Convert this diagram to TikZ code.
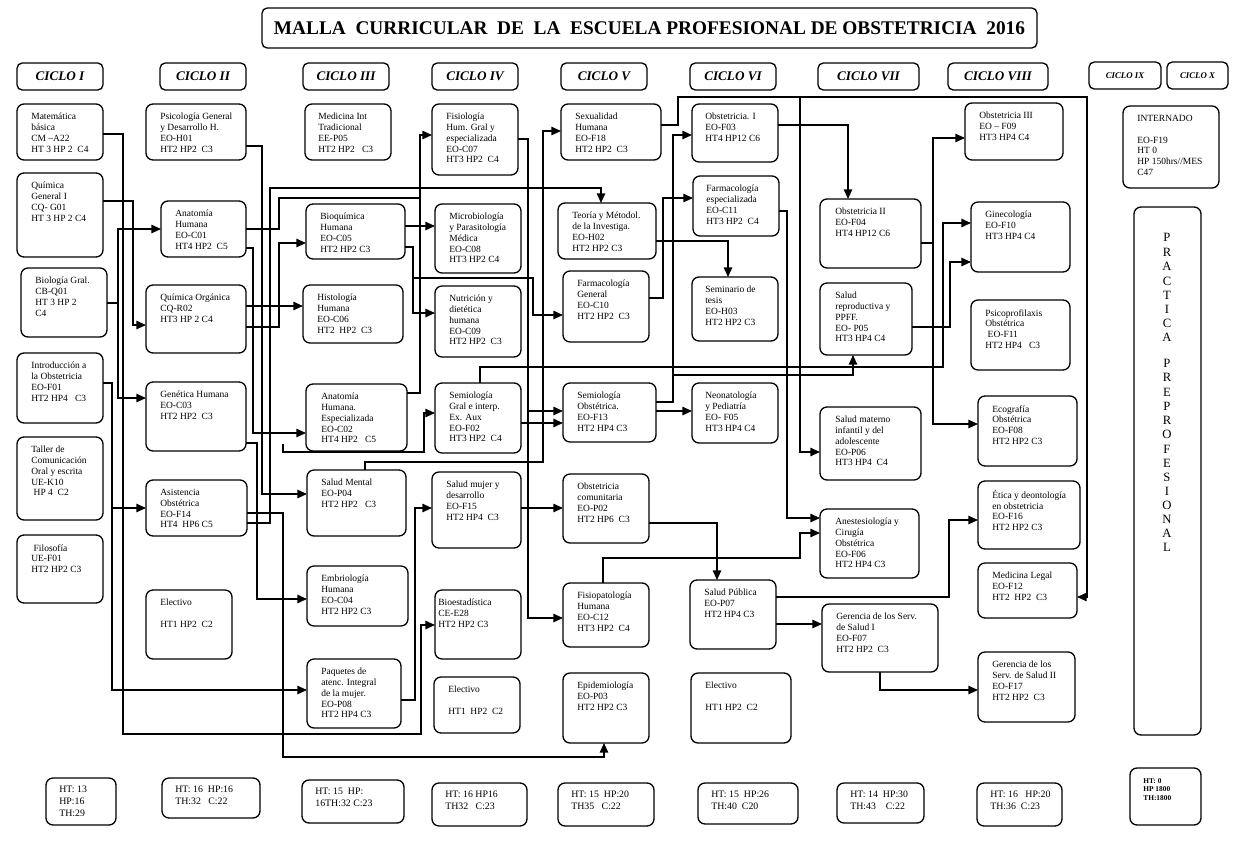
\documentclass[tikz,border=0pt]{standalone}
\usepackage{fontspec}
\setmainfont{Liberation Serif}
\usetikzlibrary{arrows.meta,calc}
\tikzset{
 box/.style={draw, rounded corners=4pt, line width=0.75pt, inner sep=0pt, outer sep=0pt},
 txt/.style={align=left, inner sep=0pt, font=\fontsize{5.4}{6.1}\selectfont},
 tottxt/.style={align=left, inner sep=0pt, font=\fontsize{5.6}{6.8}\selectfont},
 conn/.style={line width=0.8pt},
 arr/.style={-{Triangle[length=5.5pt,width=4.8pt]}},
 prl/.style={inner sep=0pt, font=\fontsize{7.2}{8}\selectfont},
}
\newcommand\mybox[7][14]{%
 \node[box, minimum width={(#5-#3)*0.02cm}, minimum height={(#6-#4)*0.02cm}, anchor=north west] (#2) at (#3,#4) {};
 \node[txt, anchor=north west] (#2t) at (#3+#1,#4+9) {#7};}
\newcommand\totbox[6]{%
 \node[box, minimum width={(#4-#2)*0.02cm}, minimum height={(#5-#3)*0.02cm}, anchor=north west] (#1) at (#2,#3) {};
 \node[tottxt, anchor=north west] (#1t) at (#2+13,#3+8) {#6};}
\newcommand\cyc[7][\fontsize{7.5}{8}\selectfont]{%
 \node[box, rounded corners=3pt, minimum width={(#5-#3)*0.02cm}, minimum height={(#6-#4)*0.02cm}, anchor=north west, font=#1\bfseries\itshape] (#2) at (#3,#4) {#7};}
\begin{document}
\begin{tikzpicture}[x=0.02cm,y=-0.02cm]
\fill[white] (0,0) rectangle (1245,840);
\useasboundingbox (0,0) rectangle (1245,840);
% title
\node[box, rounded corners=3pt, minimum width={775*0.02cm}, minimum height={40*0.02cm}, anchor=north west, font=\fontsize{11}{12}\selectfont\bfseries] (title) at (262,8) {MALLA\ \ CURRICULAR\ \ DE\ \ LA\ \ ESCUELA PROFESIONAL DE OBSTETRICIA\ \ 2016};
% headers
\cyc{h1}{17}{63}{103}{90}{CICLO I}
\cyc{h2}{160}{63}{246}{90}{CICLO II}
\cyc{h3}{303}{63}{389}{90}{CICLO III}
\cyc{h4}{432}{63}{518}{90}{CICLO IV}
\cyc{h5}{561}{63}{647}{90}{CICLO V}
\cyc{h6}{690}{63}{776}{90}{CICLO VI}
\cyc{h7}{818}{63}{919}{90}{CICLO VII}
\cyc{h8}{948}{63}{1048}{90}{CICLO VIII}
\cyc[\fontsize{5}{6}\selectfont]{h9}{1089}{62}{1161}{89}{CICLO IX}
\cyc[\fontsize{5}{6}\selectfont]{h10}{1167}{62}{1228}{89}{CICLO X}
% column I
\mybox{matb}{17}{104}{103}{160}{Matemática\\básica\\CM –A22\\HT 3 HP 2~ C4}
\mybox{qgen}{17}{173}{103}{257}{Química\\General I\\CQ- G01\\HT 3 HP 2 C4}
\mybox{biol}{21}{268}{107}{337}{Biología Gral.\\CB-Q01\\HT 3 HP 2\\C4}
\mybox{intro}{17}{353}{103}{423}{Introducción a\\la Obstetricia\\EO-F01\\HT2 HP4~~ C3}
\mybox{taller}{17}{437}{103}{520}{Taller de\\Comunicación\\Oral y escrita\\UE-K10\\~HP 4~ C2}
\mybox{filo}{17}{535}{103}{603}{~Filosofía\\UE-F01\\HT2 HP2 C3}
% column II
\mybox{psic}{146}{104}{246}{160}{Psicología General\\y Desarrollo H.\\EO-H01\\HT2 HP2~ C3}
\mybox{anat}{161}{201}{246}{257}{Anatomía\\Humana\\EO-C01\\HT4 HP2~ C5}
\mybox{qorg}{146}{285}{246}{353}{Química Orgánica\\CQ-R02\\HT3 HP 2 C4}
\mybox{gene}{146}{382}{246}{451}{Genética Humana\\EO-C03\\HT2 HP2~ C3}
\mybox{asis}{146}{480}{247}{536}{Asistencia\\Obstétrica\\EO-F14\\HT4~ HP6 C5}
\mybox{elec2}{146}{590}{232}{659}{Electivo\\[6.1pt]HT1 HP2~ C2}
% column III
\mybox[13]{medi}{305}{104}{391}{160}{Medicina Int\\Tradicional\\EE-P05\\HT2 HP2~~ C3}
\mybox{bioq}{306}{204}{405}{259}{Bioquímica\\Humana\\EO-C05\\HT2 HP2 C3}
\mybox{hist}{303}{285}{403}{343}{Histología\\Humana\\EO-C06\\HT2~ HP2~ C3}
\mybox[15]{anesp}{306}{384}{407}{451}{Anatomía\\Humana.\\Especializada\\EO-C02\\HT4 HP2~~ C5}
\mybox{smen}{307}{470}{406}{536}{Salud Mental\\EO-P04\\HT2 HP2~~ C3}
\mybox{embr}{307}{566}{408}{626}{Embriología\\Humana\\EO-C04\\HT2 HP2 C3}
\mybox{paq}{307}{659}{401}{728}{Paquetes de\\atenc. Integral\\de la mujer.\\EO-P08\\HT2 HP4 C3}
% column IV
\mybox{fisi}{432}{104}{518}{175}{Fisiología\\Hum. Gral y\\especializada\\EO-C07\\HT3 HP2~ C4}
\mybox{micro}{435}{204}{521}{273}{Microbiología\\y Parasitología\\Médica\\EO-C08\\HT3 HP2 C4}
\mybox{nutr}{435}{286}{521}{357}{Nutrición y\\dietética\\humana\\EO-C09\\HT2 HP2~ C3}
\mybox{semg}{435}{383}{521}{453}{Semiología\\Gral e interp.\\Ex. Aux\\EO-F02\\HT3 HP2~ C4}
\mybox{smuj}{432}{472}{521}{548}{Salud mujer y\\desarrollo\\EO-F15\\HT2 HP4~ C3}
\mybox[3]{bioe}{435}{590}{521}{659}{Bioestadística\\CE-E28\\HT2 HP2 C3}
\mybox{elec4}{434}{677}{520}{733}{Electivo\\[6.1pt]HT1~ HP2~ C2}
% column V
\mybox{sexu}{561}{104}{661}{160}{Sexualidad\\Humana\\EO-F18\\HT2 HP2~ C3}
\mybox{teor}{558}{203}{656}{259}{Teoría y Métodol.\\de la Investiga.\\EO-H02\\HT2 HP2 C3}
\mybox{farg}{563}{271}{649}{342}{Farmacología\\General\\EO-C10\\HT2 HP2~ C3}
\mybox{semo}{563}{383}{656}{442}{Semiología\\Obstétrica.\\EO-F13\\HT2 HP4 C3}
\mybox{obco}{563}{474}{649}{543}{Obstetricia\\comunitaria\\EO-P02\\HT2 HP6~ C3}
\mybox{fisp}{563}{583}{649}{647}{Fisiopatología\\Humana\\EO-C12\\HT3 HP2~ C4}
\mybox{epid}{563}{673}{649}{743}{Epidemiología\\EO-P03\\HT2 HP2 C3}
% column VI
\mybox[13]{obs1}{692}{104}{778}{162}{Obstetricia. I\\EO-F03\\HT4 HP12 C6}
\mybox[13]{fare}{693}{176}{779}{236}{Farmacología\\especializada\\EO-C11\\HT3 HP2~ C4}
\mybox[13]{semt}{692}{277}{778}{341}{Seminario de\\tesis\\EO-H03\\HT2 HP2 C3}
\mybox[13]{neon}{692}{383}{778}{443}{Neonatología\\y Pediatría\\EO- F05\\HT3 HP4 C4}
\mybox{spub}{690}{580}{776}{649}{Salud Pública\\EO-P07\\HT2 HP4 C3}
\mybox{elec6}{691}{673}{791}{743}{Electivo\\[6.1pt]HT1 HP2~ C2}
% column VII
\mybox[15]{obs2}{820}{199}{921}{268}{Obstetricia II\\EO-F04\\HT4 HP12 C6}
\mybox[15]{srep}{820}{283}{912}{355}{Salud\\reproductiva y\\PPFF.\\EO- P05\\HT3 HP4 C4}
\mybox[15]{smat}{820}{407}{921}{480}{Salud materno\\infantil y del\\adolescente\\EO-P06\\HT3 HP4~ C4}
\mybox[15]{anes}{820}{509}{919}{578}{Anestesiología y\\Cirugía\\Obstétrica\\EO-F06\\HT2 HP4 C3}
\mybox{ger1}{822}{604}{938}{672}{Gerencia de los Serv.\\de Salud I\\EO-F07\\HT2 HP2~ C3}
% column VIII
\mybox{obs3}{965}{103}{1063}{160}{Obstetricia III\\EO – F09\\HT3 HP4 C4}
\mybox{gine}{971}{202}{1070}{272}{Ginecología\\EO-F10\\HT3 HP4 C4}
\mybox{psip}{971}{300}{1070}{370}{Psicoprofilaxis\\Obstétrica\\~EO-F11\\HT2 HP4~~ C3}
\mybox{ecog}{978}{396}{1077}{466}{Ecografía\\Obstétrica\\EO-F08\\HT2 HP2 C3}
\mybox{etic}{978}{481}{1080}{549}{Ética y deontología\\en obstetricia\\EO-F16\\HT2 HP2 C3}
\mybox{mleg}{978}{563}{1077}{618}{Medicina Legal\\EO-F12\\HT2~ HP2~ C3}
\mybox{ger2}{978}{652}{1075}{722}{Gerencia de los\\Serv. de Salud II\\EO-F17\\HT2 HP2~ C3}
% column IX / X
\mybox{inter}{1123}{106}{1219}{188}{INTERNADO\\[6.1pt]EO-F19\\HT 0\\HP 150hrs//MES\\C47}
\node[box, minimum width={67*0.02cm}, minimum height={528*0.02cm}, anchor=north west] (prac) at (1134,207) {};
\foreach \l/\yy in {P/237,R/252,A/266,C/281,T/295,I/309,C/323,A/337,P/363,R/377,E/392,P/406,R/420,O/434,F/449,E/463,S/477,I/491,O/505,N/519,A/533,L/547}
  \node[prl] (pl\yy) at (1167,\yy) {\l};
% totals
\totbox{t1}{46}{778}{116}{825}{HT: 13\\HP:16\\TH:29}
\totbox{t2}{162}{778}{260}{818}{HT: 16~ HP:16\\TH:32~~ C:22}
\totbox{t3}{302}{780}{404}{823}{HT: 15~ HP:\\16TH:32 C:23}
\totbox{t4}{432}{783}{527}{826}{HT: 16 HP16\\TH32~~ C:23}
\totbox{t5}{558}{783}{654}{826}{HT: 15~ HP:20\\TH35~~ C:22}
\totbox{t6}{698}{783}{798}{824}{HT: 15~ HP:26\\TH:40~ C20}
\totbox{t7}{837}{783}{924}{823}{HT: 14~ HP:30\\TH:43~~~ C:22}
\totbox{t8}{977}{783}{1062}{826}{HT: 16~~ HP:20\\TH:36~ C:23}
\node[box, minimum width={71*0.02cm}, minimum height={57*0.02cm}, anchor=north west] (t9) at (1130,768) {};
\node[inner sep=0pt, align=left, anchor=north west, font=\fontsize{4.2}{4.8}\selectfont\bfseries] (t9t) at (1143,778) {HT: 0\\HP 1800\\TH:1800};
% connectors
\coordinate (fe) at (283,444);
\draw[conn,arr] (matb.east|-0,134) -- (123,134) -- (123,734) -- (421,734) -- (421,625) -- (bioe.west|-0,625);
\draw[conn,arr] (qgen.east|-0,201) -- (133,201) -- (133,325) -- (qorg.west|-0,325);
\draw[conn] (biol.east|-0,303) -- (118,303);
\draw[conn,arr] (118,303) -- (118,229) -- (anat.west|-0,229);
\draw[conn,arr] (118,303) -- (118,398) -- (gene.west|-0,398);
\draw[conn,arr] (intro.east|-0,383) -- (112,383) -- (112,508) -- (asis.west|-0,508);
\draw[conn,arr] (112,508) -- (112,690) -- (paq.west|-0,690);
\draw[conn,arr] (psic.east|-0,146) -- (262,146) -- (262,494) -- (smen.west|-0,494);
\draw[conn,arr] (anat.east|-0,229) -- (279,229) -- (279,198) -- (420,198) -- (420,135) -- (fisi.west|-0,135);
\draw[conn] (anesp.east|-0,393) -- (420,393) -- (420,198);
\draw[conn,arr] (anat.east|-0,248) -- (253,248) -- (253,433) -- (anesp.west|-0,433);
\draw[conn,arr] (asis.east|-0,523) -- (270,523) -- (270,188) -- (601,188) -- (teor.north-|601,0);
\draw[conn,arr] (asis.east|-0,513) -- (283,513) -- (283,757) -- (604,757) -- (epid.south-|604,0);
\draw[conn,arr] (qorg.east|-0,327) -- (279,327) -- (279,243) -- (bioq.west|-0,243);
\draw[conn,arr] (qorg.east|-0,306) -- (hist.west|-0,306);
\draw[conn,arr] (gene.east|-0,443) -- (257,443) -- (257,599) -- (embr.west|-0,599);
\draw[conn,arr] (bioq.east|-0,226) -- (micro.west|-0,226);
\draw[conn,arr] (bioq.east|-0,247) -- (413,247) -- (413,313) -- (nutr.west|-0,313);
\draw[conn,arr] (413,278) -- (533,278) -- (533,315) -- (farg.west|-0,315);
\draw[conn,arr] (fe) -- (283,452) -- (424,452) -- (424,413) -- (semg.west|-0,413);
\draw[conn,arr] (fisi.east|-0,139) -- (528,139) -- (528,618) -- (fisp.west|-0,618);
\draw[conn,arr] (528,411) -- (semo.west|-0,411);
\draw[conn,arr] (semg.east|-0,423) -- (semo.west|-0,423);
\draw[conn,arr] (smen.north-|365,0) -- (365,462) -- (543,462) -- (543,131) -- (sexu.west|-0,131);
\draw[conn,arr] (smuj.east|-0,508) -- (obco.west|-0,508);
\draw[conn,arr] (paq.east|-0,700) -- (415,700) -- (415,508) -- (smuj.west|-0,508);
\draw[conn,arr] (semg.north-|480,0) -- (480,367) -- (943,367) -- (943,223) -- (gine.west|-0,223);
\draw[conn,arr] (sexu.east|-0,125) -- (678,125) -- (678,97) -- (1087,97) -- (1087,597) -- (mleg.east|-0,597);
\draw[conn,arr] (800,97) -- (800,452) -- (smat.west|-0,452);
\draw[conn,arr] (obs1.east|-0,125) -- (848,125) -- (obs2.north-|848,0);
\draw[conn,arr] (semo.east|-0,402) -- (673,402) -- (673,135) -- (obs1.west|-0,135);
\draw[conn,arr] (673,375) -- (853,375) -- (srep.south-|853,0);
\draw[conn,arr] (farg.east|-0,298) -- (663,298) -- (663,198) -- (fare.west|-0,198);
\draw[conn,arr] (teor.east|-0,241) -- (728,241) -- (semt.north-|728,0);
\draw[conn,arr] (semo.east|-0,411) -- (neon.west|-0,411);
\draw[conn,arr] (fare.east|-0,211) -- (787,211) -- (787,518) -- (anes.west|-0,518);
\draw[conn,arr] (fisp.north-|603,0) -- (603,558) -- (800,558) -- (800,533) -- (anes.west|-0,533);
\draw[conn,arr] (obco.east|-0,523) -- (717,523) -- (spub.north-|717,0);
\draw[conn,arr] (spub.east|-0,624) -- (ger1.west|-0,624);
\draw[conn,arr] (spub.east|-0,597) -- (949,597) -- (949,520) -- (etic.west|-0,520);
\draw[conn,arr] (ger1.south-|880,0) -- (880,690) -- (ger2.west|-0,690);
\draw[conn] (obs2.east|-0,243) -- (933,243);
\draw[conn,arr] (933,243) -- (933,138) -- (obs3.west|-0,138);
\draw[conn,arr] (933,243) -- (933,424) -- (ecog.west|-0,424);
\draw[conn,arr] (srep.east|-0,327) -- (950,327) -- (950,262) -- (gine.west|-0,262);
\end{tikzpicture}
\end{document}
